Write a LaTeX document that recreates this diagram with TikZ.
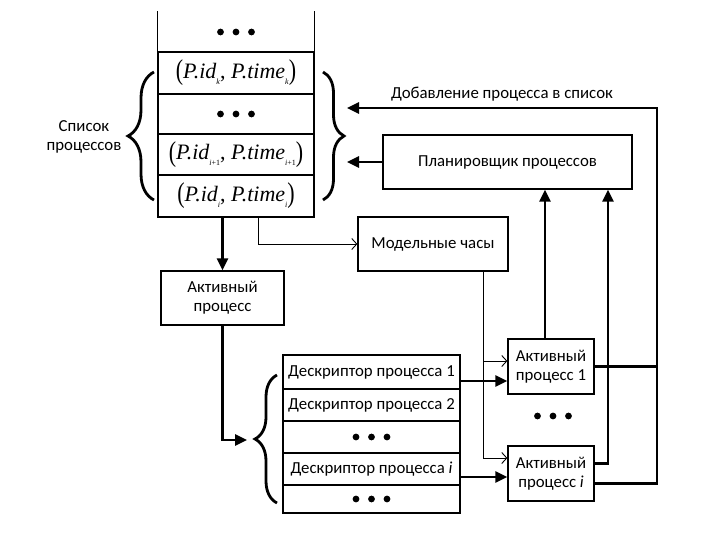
\documentclass[tikz,border=0pt]{standalone}
\usepackage{fontspec}
\setmainfont{Carlito}
\newfontfamily\tms{Liberation Serif}
\usetikzlibrary{arrows.meta,decorations.pathreplacing}

% pair (P.id, P.time) with subscript
\newcommand{\bpar}[1]{\raisebox{-1.5pt}{\scalebox{1}[1.3]{#1}}}
\newcommand{\pid}[1]{{\tms\fontsize{22}{22}\selectfont\bpar{(}\textit{P.id}\raisebox{-6pt}{\fontsize{8}{8}\selectfont #1}, \textit{P.time}\raisebox{-6pt}{\fontsize{8}{8}\selectfont #1}\bpar{)}}}
% three big dots
\newcommand{\tridots}[1]{\foreach \dx in {-15.5,0,15.5} \fill ([xshift=\dx pt]#1) circle (3.4pt);}

\begin{document}
\begin{tikzpicture}[x=1pt,y=-1pt,font=\fontsize{16.8}{19}\selectfont,
    box/.style={draw,line width=1.3pt,inner sep=0pt,align=center},
    row/.style={box,minimum width=156pt},
    drow/.style={box,minimum width=177pt},
    thk/.style={line width=2.6pt},
    thn/.style={line width=0.9pt},
    tip/.style={-{Triangle[length=12pt,width=11pt]}},
    ttip/.style={-{Straight Barb[length=5pt,width=11pt]}},
    brc/.style={decorate,line width=2.8pt}]
  \useasboundingbox (0,0) rectangle (717,547);

  % list of processes
  \node[row,draw=none,minimum height=40pt] (r0) at (236,32) {};
  \node[row,minimum height=42pt] (rk) at (236,73) {\pid{\textit{k}}};
  \node[row,minimum height=40pt] (rd) at (236,114) {};
  \node[row,minimum height=41pt] (ri1) at (236,154.5) {\pid{\textit{i}+1}};
  \node[row,minimum height=42pt] (ri) at (236,196) {\pid{\textit{i}}};
  \draw[line width=1.3pt] (r0.north west) -- (r0.south west)
                          (r0.north east) -- (r0.south east);
  \tridots{r0.center}
  \tridots{rd.center}

  \draw[brc,decoration={brace,amplitude=26pt}] (154,200) -- (154,72);
  \draw[brc,decoration={brace,amplitude=21pt}] (323,72) -- (323,200);
  \node[align=center] (lbl) at (84,137) {Список\\процессов};

  % boxes
  \node[box,minimum width=249pt,minimum height=54pt] (sched) at (507.5,162) {Планировщик процессов};
  \node[box,minimum width=150pt,minimum height=54pt] (clock) at (433,244) {Модельные часы};
  \node[box,minimum width=123pt,minimum height=54pt] (act) at (222.5,298) {Активный\\процесс};

  % descriptors
  \node[drow,minimum height=34pt] (d1) at (371.5,372) {Дескриптор процесса 1};
  \node[drow,minimum height=32pt] (d2) at (371.5,405) {Дескриптор процесса 2};
  \node[drow,minimum height=32pt] (dd) at (371.5,437) {};
  \node[drow,minimum height=32pt] (di) at (371.5,469) {Дескриптор процесса \textit{i}};
  \node[drow,minimum height=28pt] (de) at (371.5,499) {};
  \tridots{dd.center}
  \tridots{de.center}
  \draw[brc,decoration={brace,amplitude=22pt}] (277,503) -- (277,375);

  \node[box,minimum width=86pt,minimum height=55pt] (ap1) at (551,366.5) {Активный\\процесс 1};
  \node[box,minimum width=86pt,minimum height=55pt] (api) at (551,473.5) {Активный\\процесс \textit{i}};
  \node (apd) at (553,416) {};
  \tridots{apd.center}

  % helper points
  \coordinate (addtip) at (347,108);
  \coordinate (outer) at (657,108);
  \coordinate (schtip) at (347,162);
  \coordinate (dtip) at (247,440);
  \coordinate (clk) at ([xshift=50pt]clock.south);
  \coordinate (ap1a) at ([yshift=5.5pt]ap1.west);
  \coordinate (ap1b) at ([yshift=-14.5pt]ap1.west);
  \coordinate (apia) at ([yshift=15.5pt]api.west);
  \coordinate (apib) at ([yshift=-3.5pt]api.west);
  \coordinate (apio) at ([yshift=-10pt]api.east);
  \coordinate (apiu) at ([yshift=10pt]api.east);

  % connectors
  \draw[thk,tip] (act.north |- ri.south) -- (act.north);
  \draw[thn,ttip] ([xshift=22pt]ri.south) |- (clock.west);
  \draw[thk,tip] (act.south) |- (dtip);
  \draw[thk,tip] (apio) -| (outer) -- (addtip)
    node[midway,above=2pt] (addlbl) {Добавление процесса в список};
  \draw[thk,tip] (sched.west) -- (schtip);
  \draw[thk,tip] ([xshift=-6pt]ap1.north) -- ([xshift=-6pt]ap1.north |- sched.south);
  \draw[thk] (ap1.east) -- (outer |- ap1.east);
  \draw[thk,tip] (apiu) -| ([xshift=100.5pt]sched.south);
  \draw[thn,ttip] (clk) |- (apia);
  \draw[thn,ttip] (clk |- ap1a) -- (ap1a);
  \draw[thk,tip] (d1.east |- ap1b) -- (ap1b);
  \draw[thk,tip] (di.east |- apib) -- (apib);
\end{tikzpicture}
\end{document}
